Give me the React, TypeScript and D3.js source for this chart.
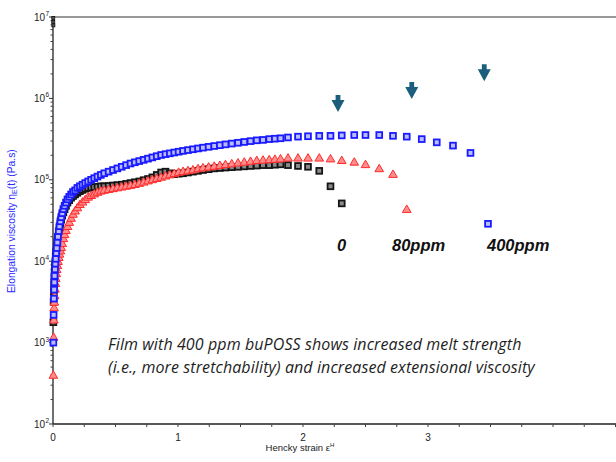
import React from "react";
import * as d3 from "d3";

// Hencky strain sampling shared by the three films
const strain = [
  0.003, 0.005, 0.007, 0.009, 0.011, 0.013, 0.016, 0.019, 0.022, 0.026,
  0.03, 0.035, 0.04, 0.046, 0.052, 0.059, 0.066, 0.074, 0.083, 0.093,
  0.104, 0.116, 0.13, 0.145, 0.16, 0.177, 0.195, 0.215, 0.236, 0.258,
  0.281, 0.305, 0.33, 0.356, 0.383, 0.41, 0.445, 0.48, 0.515, 0.55,
  0.585, 0.62, 0.655, 0.69, 0.725, 0.76, 0.795, 0.83, 0.865, 0.9,
  0.935, 0.97, 1.005, 1.04, 1.08, 1.12, 1.16, 1.2, 1.245, 1.29,
  1.335, 1.38, 1.43, 1.48, 1.53, 1.58, 1.63, 1.68, 1.73, 1.775,
  1.82, 1.88, 1.96, 2.04, 2.13, 2.22, 2.31, 2.41, 2.5, 2.61,
  2.72, 2.83, 2.95, 3.07, 3.2, 3.34, 3.48,
];

// elongation viscosity (Pa.s)
const eta0ppm = [
  1780, 3160, 4170, 5130, 6170, 7240, 8710, 10000, 11500, 13200,
  15100, 17400, 20000, 22900, 25700, 28800, 32400, 36300, 39800, 43600,
  47900, 52500, 56200, 60300, 63100, 66100, 69200, 72400, 75000, 77600,
  79400, 80400, 81300, 82200, 83200, 83200, 84100, 85100, 86100, 87100,
  89100, 91200, 93300, 95500, 98900, 102300, 107200, 114800, 123000, 125900,
  120200, 117500, 118900, 120200, 123000, 125900, 128800, 131800, 134900, 138000,
  139600, 141300, 142900, 144500, 146200, 147900, 149600, 151400, 151400, 153100,
  154900, 151400, 147900, 144500, 128800, 83200, 51300,
];

const eta80ppm = [
  400, 1170, 1910, 2690, 3160, 3800, 4570, 5370, 6170, 7080,
  7940, 8910, 10000, 11200, 12300, 13500, 14800, 16600, 19100, 21400,
  24000, 26900, 30200, 33900, 38000, 41700, 45700, 50100, 53700, 57500,
  61700, 64600, 67600, 70800, 73300, 75000, 76700, 78500, 80400, 82200,
  84100, 86100, 88100, 91200, 94400, 97700, 101200, 104700, 108400, 112200,
  116100, 120200, 124500, 127400, 130300, 133400, 138000, 141300, 144500, 147900,
  151400, 154900, 158500, 162200, 166000, 169800, 173800, 175800, 177800, 179900,
  182000, 186200, 186200, 186200, 186200, 182000, 173800, 166000, 154900, 138000,
  117500, 43600,
];

const eta400ppm = [
  1000, 2190, 3470, 4470, 5500, 6610, 7940, 9330, 10700, 12600,
  14500, 17000, 20000, 23400, 26900, 30900, 34700, 38900, 43600, 47900,
  52500, 57500, 61700, 66100, 70800, 74100, 79400, 83200, 87100, 91200,
  95500, 100000, 104700, 109600, 114800, 120200, 125900, 131800, 138000, 144500,
  151400, 158500, 164100, 169800, 175800, 182000, 188400, 195000, 201800, 206500,
  211300, 216300, 221300, 226500, 231700, 237100, 242700, 248300, 254100, 260000,
  266100, 272300, 278600, 285100, 291700, 298500, 305500, 309000, 316200, 319900,
  323600, 331100, 338800, 342700, 346700, 346700, 350800, 354800, 354800, 354800,
  346700, 338800, 316200, 288400, 263000, 213800, 28800,
];

// stray points at the top of the 0 ppm run
const outlierStrain = [0.002, 0.002, 0.003];
const outlierEta = [9.7e6, 8.7e6, 7.9e6];

// rupture arrows (strain, tip viscosity)
const arrowStrain = [2.28, 2.87, 3.45];
const arrowEta = [6.8e5, 9.8e5, 1.63e6];

const yDecades = [2, 3, 4, 5, 6, 7];
const xMajor = [0, 1, 2, 3];

const W = 616;
const H = 462;
const SANS = "Liberation Sans, Arial, Helvetica, sans-serif";

export default function App() {
  const x = d3.scaleLinear().domain([0, 4.5]).range([53, 615.5]);
  const y = d3.scaleLog().domain([1e2, 1e7]).range([424, 17]);

  const pts = (vals: number[]) => vals.map((v, i) => [x(strain[i]), y(v)]);

  const minorY: number[] = [];
  yDecades.slice(0, -1).forEach((p) => {
    for (let k = 2; k < 10; k++) minorY.push(k * Math.pow(10, p));
  });
  const minorX = d3.range(0, 4.51, 0.25);

  const tri = d3.symbol().type(d3.symbolTriangle).size(32)();

  return (
    <svg
      width={W}
      height={H}
      style={{ position: "absolute", left: 0, top: 0, background: "#fff" }}
    >
      {/* frame */}
      <line x1={53} x2={W} y1={17} y2={17} stroke="#333" strokeWidth={1} />
      <line x1={53} x2={53} y1={17} y2={424} stroke="#222" strokeWidth={1.3} />
      <line x1={53} x2={W} y1={424} y2={424} stroke="#222" strokeWidth={1.3} />

      {/* y ticks */}
      {minorY.map((v) => (
        <line key={"my" + v} x1={50.5} x2={53} y1={y(v)} y2={y(v)} stroke="#444" />
      ))}
      {yDecades.map((p) => (
        <g key={"y" + p} fontFamily={SANS} fill="#222">
          <line x1={49} x2={53} y1={y(Math.pow(10, p))} y2={y(Math.pow(10, p))} stroke="#333" />
          <text x={45} y={y(Math.pow(10, p)) + 3.5} textAnchor="end" fontSize={10}>
            10
          </text>
          <text x={45.5} y={y(Math.pow(10, p)) - 1} fontSize={6.5}>
            {p}
          </text>
        </g>
      ))}

      {/* x ticks */}
      {minorX.map((v) => (
        <line key={"mx" + v} x1={x(v)} x2={x(v)} y1={424} y2={427} stroke="#444" />
      ))}
      {xMajor.map((v) => (
        <text key={"x" + v} x={x(v)} y={441} textAnchor="middle" fontSize={10} fill="#222" fontFamily={SANS}>
          {v}
        </text>
      ))}

      {/* axis titles */}
      <text x={300} y={451} textAnchor="middle" fontSize={9.5} fill="#222" fontFamily={SANS}>
        Hencky strain  ε
        <tspan fontSize={6} dy={-4}>H</tspan>
      </text>
      <text transform="translate(15,293) rotate(-90)" fontSize={10.3} fill="#2b2bff" fontFamily={SANS}>
        Elongation viscosity η
        <tspan fontSize={7} dy={2}>E</tspan>
        <tspan dy={-2}>(t)  (Pa.s)</tspan>
      </text>

      {/* 0 ppm */}
      {pts(eta0ppm).map(([px, py], i) => (
        <rect key={"b" + i} x={px - 2.9} y={py - 2.9} width={5.8} height={5.8} fill="#8a8a8a" stroke="#151515" strokeWidth={1.8} />
      ))}
      {outlierStrain.map((s, i) => (
        <rect key={"o" + i} x={x(s) - 1.5} y={y(outlierEta[i]) - 1.5} width={3} height={3} fill="#555" stroke="#111" strokeWidth={0.8} />
      ))}

      {/* 80 ppm */}
      {pts(eta80ppm).map(([px, py], i) => (
        <path key={"r" + i} d={tri!} transform={`translate(${px},${py + 0.8})`} fill="#ff8c8c" stroke="#ff2a2a" strokeWidth={1} />
      ))}

      {/* 400 ppm */}
      {pts(eta400ppm).map(([px, py], i) => (
        <rect key={"u" + i} x={px - 2.9} y={py - 2.9} width={5.8} height={5.8} fill="#b9bcff" stroke="#1a1aff" strokeWidth={1.8} />
      ))}

      {/* arrows */}
      {arrowStrain.map((s, i) => {
        const ax = x(s);
        const ay = y(arrowEta[i]);
        return (
          <path
            key={"a" + i}
            d={`M${ax - 2.4},${ay - 17} H${ax + 2.4} V${ay - 12} H${ax + 6.5} L${ax},${ay} L${ax - 6.5},${ay - 12} H${ax - 2.4} Z`}
            fill="#1b5f7d"
          />
        );
      })}

      {/* series labels */}
      <g fontFamily={SANS} fontSize={16.5} fontWeight="bold" fontStyle="italic" fill="#111">
        <text x={337} y={251}>0</text>
        <text x={392} y={251}>80ppm</text>
        <text x={487} y={251}>400ppm</text>
      </g>

      {/* note */}
      <g fontFamily="Open Sans, Lato, sans-serif" fontStyle="italic" fontSize={16} letterSpacing={0.1} fill="#1e1e1e">
        <text x={108} y={350}>Film with 400 ppm buPOSS shows increased melt strength</text>
        <text x={108} y={373}>(i.e., more stretchability) and increased extensional viscosity</text>
      </g>
    </svg>
  );
}
